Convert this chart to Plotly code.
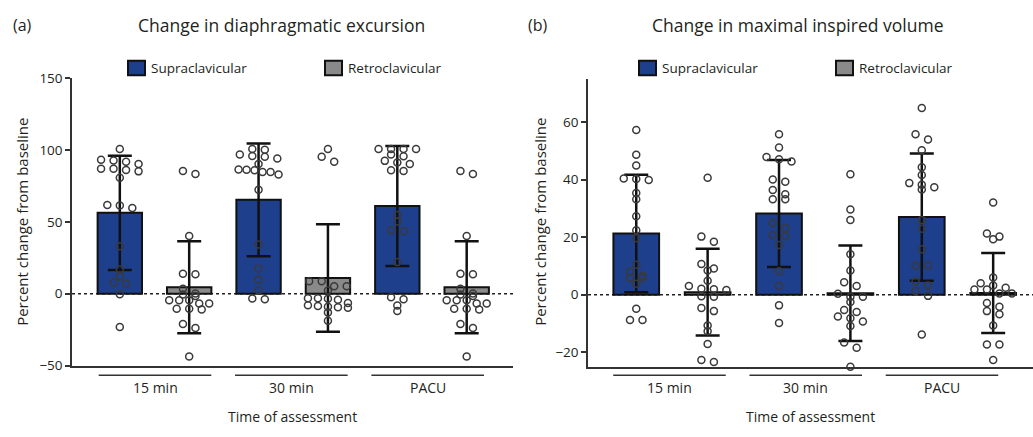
import numpy as np
import plotly.graph_objects as go

# ---------------- data ----------------
categories = ["15 min", "30 min", "PACU"]
group_names = ["Supraclavicular", "Retroclavicular"]

# Panel (a): change in diaphragmatic excursion (%)
a_supra_mean = [56.3, 65.3, 61.0]
a_supra_sd = [39.7, 39.2, 41.7]
a_retro_mean = [4.5, 10.9, 4.5]
a_retro_sd = [32.0, 37.4, 32.0]

a_supra_15 = [100.7, 93.1, 92.7, 91.8, 90.2, 86.9, 86.9, 86.0, 85.1, 80.7,
              61.8, 61.3, 59.6, 33.1, 16.9, 12.0, 7.8, 6.9, -0.4, -23.1]
a_retro_15 = [85.3, 83.3, 40.2, 14.0, 13.6, 3.5, 0.2, -0.5, -1.6, -4.5,
              -4.5, -4.5, -6.8, -6.8, -10.5, -11.0, -10.5, -21.0, -23.8, -43.6]
a_supra_30 = [100.7, 100.2, 96.9, 95.8, 95.3, 94.0, 90.2, 86.4, 86.2, 85.8,
              84.7, 84.7, 82.9, 72.4, 34.2, 17.6, 9.8, 2.4, -3.3, -3.8]
a_retro_30 = [100.7, 95.3, 91.8, 8.7, 8.7, 5.2, 5.2, 2.2, -3.1, -3.1,
              -3.5, -4.2, -6.4, -8.0, -8.5, -9.0, -9.3, -9.8, -13.1, -18.7]
a_supra_pacu = [100.7, 100.7, 100.7, 100.7, 96.9, 95.6, 92.4, 91.3, 90.2, 85.8,
                85.3, 54.7, 50.2, 44.2, 43.6, 22.0, -2.4, -3.8, -8.2, -12.0]
a_retro_pacu = [85.3, 83.3, 40.2, 14.0, 13.6, 3.5, 0.2, -0.5, -1.6, -4.5,
                -4.5, -4.5, -6.8, -6.8, -10.5, -11.0, -10.5, -21.0, -23.8, -43.6]

# Panel (b): change in maximal inspired volume (%)
b_supra_mean = [21.3, 28.2, 27.0]
b_supra_sd = [20.4, 18.6, 22.1]
b_retro_mean = [0.9, 0.5, 0.6]
b_retro_sd = [15.1, 16.6, 13.9]

b_supra_15 = [57.3, 48.7, 44.9, 40.4, 40.2, 39.9, 35.4, 33.2, 27.3, 22.4,
              19.6, 10.4, 8.0, 6.6, 5.8, 5.7, 3.8, -4.9, -8.8, -8.8]
b_retro_15 = [40.7, 20.2, 18.4, 10.7, 9.1, 8.4, 4.9, 3.0, 2.1, 1.9,
              1.6, -0.5, -0.7, -4.6, -5.7, -10.7, -12.7, -17.1, -22.7, -23.4]
b_supra_30 = [55.8, 51.2, 47.9, 47.1, 46.3, 40.1, 39.3, 36.4, 34.9, 33.2,
              33.2, 24.9, 23.2, 20.8, 20.3, 17.3, 8.2, 3.0, -3.7, -9.8]
b_retro_30 = [41.9, 29.6, 26.0, 14.1, 8.4, 4.3, 3.0, 0.3, -0.7, -0.7,
              -2.5, -5.3, -6.0, -7.6, -8.2, -9.3, -10.9, -16.6, -18.4, -25.0]
b_supra_pacu = [64.9, 55.8, 54.0, 50.2, 44.3, 41.6, 38.8, 38.2, 37.4, 36.6,
                26.0, 22.9, 15.8, 10.2, 10.2, 4.7, 3.2, 1.3, -0.4, -13.8]
b_retro_pacu = [32.1, 21.3, 20.2, 19.3, 6.0, 4.0, 3.2, 2.4, 1.8, 1.8,
                0.4, 0.4, -2.9, -4.2, -5.7, -6.8, -10.7, -17.3, -17.3, -22.7]

a_ticks = [-50, 0, 50, 100, 150]
b_ticks = [-20, 0, 20, 40, 60]

# ---------------- style / layout constants ----------------
W, H = 1033, 437
FONT = "Open Sans"
TXT = "#231f20"
BLUE = "#1e3f8c"
GREY = "#8a8a8a"
OFFSET = 0.25
BAR_W = 0.32


def px(x):
    return x / W


def py(y):
    return 1 - y / H


panels = [
    dict(xa="x", ya="y", cx="x3",
         xdom=[px(72), px(513)], ydom=[py(372), py(72)],
         xr=[-0.5946, 2.5838], yr=[-50, 150], cr=[-0.6087, 2.6256],
         ticks=a_ticks,
         supra=(a_supra_mean, a_supra_sd, [a_supra_15, a_supra_30, a_supra_pacu]),
         retro=(a_retro_mean, a_retro_sd, [a_retro_15, a_retro_30, a_retro_pacu])),
    dict(xa="x2", ya="y2", cx="x4",
         xdom=[px(588), 1.0], ydom=[py(373), py(73)],
         xr=[-0.588, 2.529], yr=[-25, 75], cr=[-0.598, 2.668],
         ticks=b_ticks,
         supra=(b_supra_mean, b_supra_sd, [b_supra_15, b_supra_30, b_supra_pacu]),
         retro=(b_retro_mean, b_retro_sd, [b_retro_15, b_retro_30, b_retro_pacu])),
]


def swarm(values, px_per_unit, px_per_x, spacing=12.5, maxw=40.0, thresh=5.5):
    """Prism-like row layout: nearby values share a row, spread symmetrically."""
    vals = np.asarray(values, float)
    order = np.argsort(-vals, kind="stable")
    offs = np.zeros(len(vals))
    clusters, cur, start = [], [], None
    for i in order:
        p = -vals[i] * px_per_unit
        if start is None or p - start > thresh:
            if cur:
                clusters.append(cur)
            cur, start = [i], p
        else:
            cur.append(i)
    if cur:
        clusters.append(cur)
    for c in clusters:
        n = len(c)
        if n == 1:
            continue
        s = min(spacing, maxw / (n - 1))
        for k, i in enumerate(c):
            offs[i] = (k - (n - 1) / 2) * s / px_per_x
    return offs


fig = go.Figure()

for p in panels:
    plot_w = (p["xdom"][1] - p["xdom"][0]) * W
    plot_h = (p["ydom"][1] - p["ydom"][0]) * H
    px_per_x = plot_w / (p["xr"][1] - p["xr"][0])
    px_per_unit = plot_h / (p["yr"][1] - p["yr"][0])
    for gi, (key, color, sign) in enumerate([("supra", BLUE, -1), ("retro", GREY, 1)]):
        means, sds, pts = p[key]
        xs = [g + sign * OFFSET for g in range(len(categories))]
        fig.add_trace(go.Bar(
            x=xs, y=means, width=BAR_W, xaxis=p["xa"], yaxis=p["ya"],
            name=group_names[gi], showlegend=False,
            marker=dict(color=color, line=dict(color="#111111", width=2)),
            error_y=dict(type="data", array=sds, visible=True,
                         color="#111111", thickness=2.5, width=12),
        ))
    for gi, (key, sign) in enumerate([("supra", -1), ("retro", 1)]):
        means, sds, pts = p[key]
        sx, sy = [], []
        for g, vals in enumerate(pts):
            offs = swarm(vals, px_per_unit, px_per_x)
            sx.extend(g + sign * OFFSET + offs)
            sy.extend(vals)
        fig.add_trace(go.Scatter(
            x=sx, y=sy, mode="markers", xaxis=p["xa"], yaxis=p["ya"],
            showlegend=False, cliponaxis=False,
            marker=dict(symbol="circle-open", size=7, color="#3a3a3a",
                        line=dict(width=1.5, color="#3a3a3a")),
        ))

axis_common = dict(showgrid=False, zeroline=False, color=TXT)

layout = dict(
    width=W, height=H, margin=dict(l=0, r=0, t=0, b=0),
    paper_bgcolor="white", plot_bgcolor="white",
    font=dict(family=FONT, color=TXT, size=13),
    barmode="overlay", showlegend=False,
)

shapes, annotations = [], []
for i, p in enumerate(panels):
    xn = "xaxis" if i == 0 else "xaxis2"
    yn = "yaxis" if i == 0 else "yaxis2"
    cn = "xaxis3" if i == 0 else "xaxis4"
    layout[xn] = dict(domain=p["xdom"], range=p["xr"], anchor=p["ya"],
                      showline=True, linecolor="#333333", linewidth=1.5,
                      ticks="", showticklabels=False, **axis_common)
    layout[yn] = dict(domain=p["ydom"], range=p["yr"], anchor=p["xa"],
                      tickvals=p["ticks"], ticks="outside", ticklen=5, tickwidth=1.5,
                      tickcolor="#333333", showline=True, linecolor="#333333",
                      linewidth=1.5, tickfont=dict(size=13.5), **axis_common)
    layout[cn] = dict(overlaying=p["xa"], anchor=p["ya"], range=p["cr"],
                      showline=False, ticks="", showticklabels=False, **axis_common)
    # zero reference line
    shapes.append(dict(type="line", xref=p["xa"] + " domain", x0=0, x1=1,
                       yref=p["ya"], y0=0, y1=0, layer="below",
                       line=dict(color="#222222", width=1.5, dash="dot")))
    # category brackets and labels
    for g, cat in enumerate(categories):
        shapes.append(dict(type="line", xref=p["cx"], x0=g - 0.413, x1=g + 0.413,
                           yref="paper", y0=py(382), y1=py(382),
                           line=dict(color="#333333", width=1.5)))
        annotations.append(dict(text=cat, xref=p["cx"], x=g, yref="paper", y=py(395),
                                showarrow=False, xanchor="center", yanchor="middle",
                                font=dict(size=14)))
    annotations.append(dict(text="Time of assessment", xref="paper",
                            x=(p["xdom"][0] + p["xdom"][1]) / 2, yref="paper", y=py(425),
                            showarrow=False, xanchor="center", yanchor="middle",
                            font=dict(size=14)))

# y-axis titles
for xpos in (22, 540):
    annotations.append(dict(text="Percent change from baseline", xref="paper", x=px(xpos),
                            yref="paper", y=py(222), textangle=-90, showarrow=False,
                            xanchor="center", yanchor="middle", font=dict(size=15)))

# panel letters and titles
annotations += [
    dict(text="(a)", xref="paper", x=px(11), yref="paper", y=py(17), showarrow=False,
         xanchor="left", yanchor="middle", font=dict(size=16)),
    dict(text="Change in diaphragmatic excursion", xref="paper", x=px(281), yref="paper",
         y=py(17), showarrow=False, xanchor="center", yanchor="middle", font=dict(size=17.5)),
    dict(text="(b)", xref="paper", x=px(526), yref="paper", y=py(17), showarrow=False,
         xanchor="left", yanchor="middle", font=dict(size=16)),
    dict(text="Change in maximal inspired volume", xref="paper", x=px(797), yref="paper",
         y=py(17), showarrow=False, xanchor="center", yanchor="middle", font=dict(size=17.5)),
]

# legends (one per panel)
for bx0, color, name in [(128, BLUE, group_names[0]), (325, GREY, group_names[1]),
                         (639, BLUE, group_names[0]), (836, GREY, group_names[1])]:
    shapes.append(dict(type="rect", xref="paper", yref="paper",
                       x0=px(bx0), x1=px(bx0 + 17), y0=py(69), y1=py(54),
                       fillcolor=color, line=dict(color="#111111", width=2)))
    annotations.append(dict(text=name, xref="paper", x=px(bx0 + 21), yref="paper",
                            y=py(61.5), showarrow=False, xanchor="left",
                            yanchor="middle", font=dict(size=13.5)))

layout["shapes"] = shapes
layout["annotations"] = annotations
fig.update_layout(**layout)

fig.write_html("out.html")
